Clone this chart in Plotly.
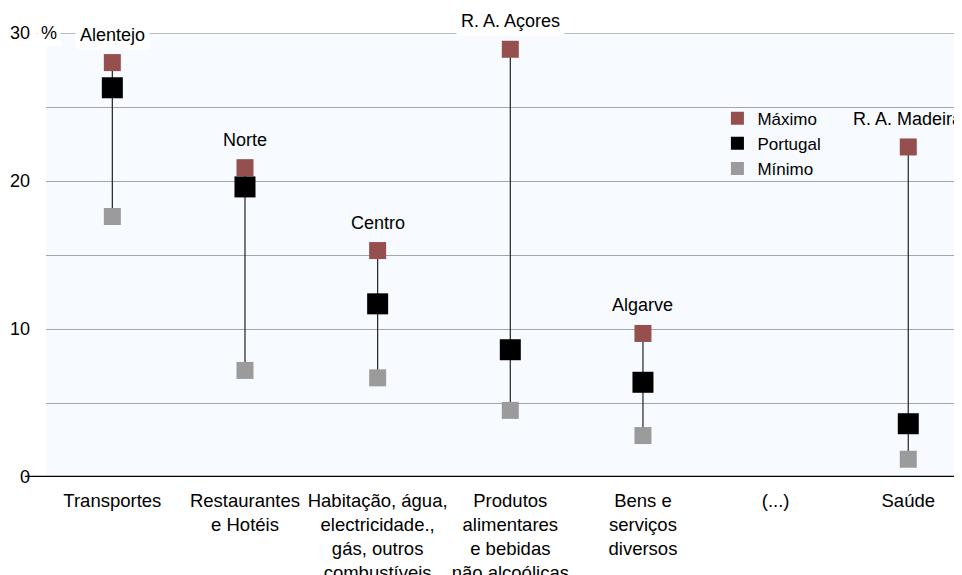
import plotly.graph_objects as go

categories = ["Transportes", "Restaurantes<br>e Hotéis", "Habitação, água,<br>electricidade.,<br>gás, outros<br>combustíveis",
              "Produtos<br>alimentares<br>e bebidas<br>não alcoólicas", "Bens e<br>serviços<br>diversos", "(...)", "Saúde"]
maximo = [28.0, 20.9, 15.3, 28.9, 9.7, None, 22.3]
portugal = [26.3, 19.6, 11.7, 8.6, 6.4, None, 3.6]
minimo = [17.6, 7.2, 6.7, 4.5, 2.8, None, 1.2]
regions = ["Alentejo", "Norte", "Centro", "R. A. Açores", "Algarve", "", "R. A. Madeira"]
y_ticks = [0, 10, 20, 30]

MAX_C = "#964F4F"
POR_C = "#000000"
MIN_C = "#9B9B9C"
FONT = "Liberation Sans, Arial, sans-serif"

xs = list(range(len(categories)))

lx, ly = [], []
for i in xs:
    if maximo[i] is not None:
        lx += [i, i, None]
        ly += [minimo[i], maximo[i], None]

fig = go.Figure()
fig.add_trace(go.Scatter(x=lx, y=ly, mode="lines", line=dict(color="#222222", width=1.2),
                         showlegend=False, hoverinfo="skip", cliponaxis=False))
fig.add_trace(go.Scatter(x=xs, y=minimo, mode="markers", name="Mínimo", showlegend=False,
                         marker=dict(symbol="square", size=17, color=MIN_C), cliponaxis=False))
fig.add_trace(go.Scatter(x=xs, y=maximo, mode="markers", name="Máximo", showlegend=False,
                         marker=dict(symbol="square", size=17, color=MAX_C), cliponaxis=False))
fig.add_trace(go.Scatter(x=xs, y=portugal, mode="markers", name="Portugal", showlegend=False,
                         marker=dict(symbol="square", size=21, color=POR_C), cliponaxis=False))
# legend entries
for nm, c in [("Máximo", MAX_C), ("Portugal", POR_C), ("Mínimo", MIN_C)]:
    fig.add_trace(go.Scatter(x=[None], y=[None], mode="markers", name=nm,
                             marker=dict(symbol="square", size=13, color=c)))

annotations = []
for i in xs:
    if regions[i]:
        white = maximo[i] > 27
        annotations.append(dict(x=i, y=maximo[i], xref="x", yref="y", text=regions[i],
                                showarrow=False, yshift=28, font=dict(size=18, color="#000", family=FONT),
                                bgcolor="white" if white else "rgba(0,0,0,0)", borderpad=4))
annotations.append(dict(x=-0.0098, y=30, xref="paper", yref="y", text="%", showarrow=False,
                        xanchor="left", font=dict(size=18, color="#000", family=FONT),
                        bgcolor="white", borderpad=3))

shapes = [
    dict(type="line", xref="paper", yref="y", x0=-0.023, x1=1, y0=0, y1=0,
         line=dict(color="#000", width=2.5), layer="above"),
    dict(type="line", xref="paper", yref="y", x0=-0.01, x1=1, y0=30, y1=30,
         line=dict(color="#A6A6A6", width=1.3), layer="below"),
]

fig.update_layout(
    width=962, height=575,
    margin=dict(l=38, r=8, t=25, b=106),
    paper_bgcolor="white", plot_bgcolor="#F7FAFE",
    font=dict(family=FONT, size=18, color="#000"),
    annotations=annotations, shapes=shapes,
    legend=dict(x=0.733, y=0.8475, xanchor="left", yanchor="top", bgcolor="rgba(0,0,0,0)",
                font=dict(size=17), tracegroupgap=0, itemwidth=30),
    xaxis=dict(range=[-0.5, 6.405], tickmode="array", tickvals=xs, ticktext=categories,
               showgrid=False, zeroline=False, showline=False, ticks="", ticklabelstandoff=10,
               tickfont=dict(size=18.5), automargin=False),
    yaxis=dict(range=[0, 30], tickmode="array", tickvals=y_ticks, showgrid=True,
               gridcolor="#A6A6A6", gridwidth=1.3, zeroline=False, showline=False, ticks="",
               ticklabelstandoff=15, tickfont=dict(size=18), automargin=False,
               minor=dict(dtick=5, showgrid=True, gridcolor="#A6A6A6", gridwidth=1.3)),
    showlegend=True,
)

fig.write_html("out.html")
